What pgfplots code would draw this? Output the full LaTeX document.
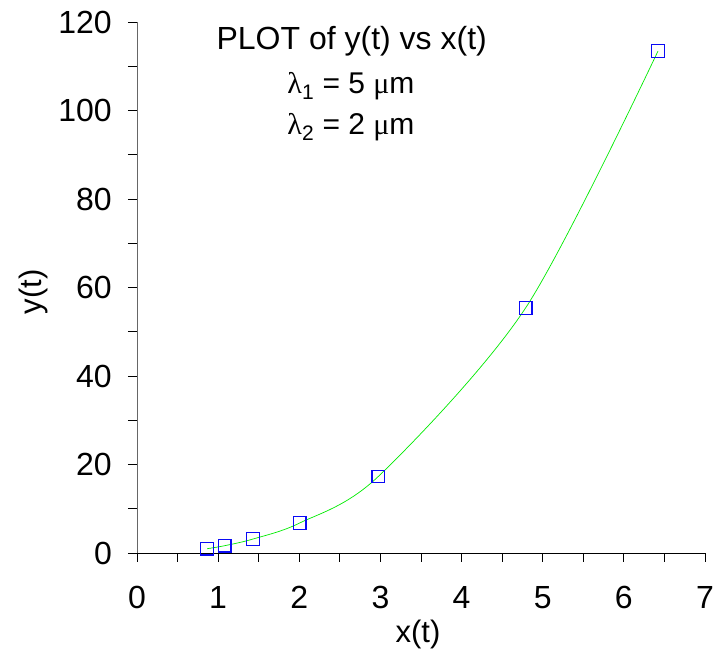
\documentclass[border=0pt]{standalone}
\usepackage{fontspec}
\setmainfont{Liberation Sans}
\newfontfamily\grk{Liberation Serif}
\usepackage{pgfplots}
\pgfplotsset{compat=1.18}

\definecolor{fitgreen}{RGB}{0,235,0}
\definecolor{ptblue}{RGB}{10,10,245}

\begin{document}
\begin{tikzpicture}
\useasboundingbox (-137pt,-107pt) rectangle (580pt,553pt);
\begin{axis}[
  at={(0,0)}, anchor=south west,
  scale only axis,
  width=568pt, height=531pt,
  xmin=0, xmax=7, ymin=0, ymax=120,
  axis lines*=left,
  x axis line style={black, line width=0.9pt},
  y axis line style={gray!80!black, line width=0.9pt},
  tick style={black, line width=0.8pt},
  tick align=outside,
  major tick length=9pt, minor tick length=9pt,
  xtick={0,1,...,7}, ytick={0,20,...,120},
  minor x tick num=1, minor y tick num=1,
  /pgf/number format/assume math mode=true,
  tick label style={font=\fontsize{32}{32}\selectfont, inner sep=0pt},
  xticklabel style={anchor=base, yshift=-47pt},
  yticklabel style={anchor=east, xshift=-16pt},
  xlabel={x(t)}, ylabel={y(t)},
  label style={font=\fontsize{31}{31}\selectfont, inner sep=0pt},
  xlabel style={at={(axis description cs:0.4947,0)}, anchor=base, yshift=-89pt},
  ylabel style={at={(axis description cs:-0.1673,0.4915)}, anchor=base},
  clip=false,
]
\addplot[fitgreen, line width=0.7pt, smooth] coordinates {
  (0.865,0.97) (1.08,1.65) (1.43,3.16) (2.005,6.78) (2.974,17.3) (4.79,55.4) (6.42,113.4)
};
\addplot[only marks, mark=square, mark size=6.3pt, mark options={draw=ptblue, line width=1.2pt}] coordinates {
  (0.865,0.97) (1.08,1.65) (1.43,3.16) (2.005,6.78) (2.974,17.3) (4.79,55.4) (6.42,113.4)
};
\node[anchor=base, inner sep=0pt, font=\fontsize{32}{32}\selectfont] at (axis cs:2.646,113.8) {PLOT of y(t) vs x(t)};
\node[anchor=base, inner sep=0pt, font=\fontsize{30}{30}\selectfont] at (axis cs:2.637,103.8) {{\grk λ}\textsubscript{1} = 5 {\grk μ}m};
\node[anchor=base, inner sep=0pt, font=\fontsize{30}{30}\selectfont] at (axis cs:2.637,94.6) {{\grk λ}\textsubscript{2} = 2 {\grk μ}m};
\end{axis}
\end{tikzpicture}
\end{document}
